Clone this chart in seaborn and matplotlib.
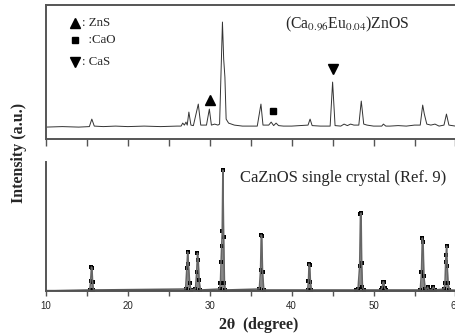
import matplotlib
matplotlib.use("Agg")
import matplotlib.pyplot as plt
import seaborn as sns
import pandas as pd

meas_2theta = [10.0, 12.0, 14.0, 15.3, 15.6, 15.9, 17.0, 18.5, 20.0, 22.0, 24.0, 26.0,
               26.5, 26.7, 26.9, 27.1, 27.25, 27.45, 27.7, 28.0, 28.6, 28.9, 29.3, 29.6,
               29.95, 30.2, 30.6, 31.0, 31.2, 31.55, 31.7, 31.85, 32.0, 32.3, 33.0, 34.0,
               35.0, 35.8, 36.25, 36.5, 37.2, 37.5, 37.8, 38.1, 38.4, 39.0, 40.0, 41.0,
               42.0, 42.25, 42.5, 43.5, 44.7, 45.0, 45.3, 46.0, 46.4, 46.8, 47.2, 47.6,
               48.2, 48.5, 48.8, 49.2, 50.0, 51.0, 51.2, 51.5, 52.0, 53.0, 54.0, 55.0,
               55.7, 56.0, 56.2, 56.5, 57.0, 57.5, 58.0, 58.6, 58.9, 59.2, 60.0, 61.0, 62.0]
meas_int = [12, 12.5, 12, 12.5, 20, 13, 12.5, 13, 12.5, 13, 12.5, 13,
            13, 16, 14, 17, 14, 27, 14, 13.5, 35, 14, 14, 14,
            30, 14, 15, 14, 15, 117, 80, 62, 20, 16, 14, 13,
            13, 13, 35, 14, 14, 17, 13.5, 16, 13.5, 13, 13, 13.5,
            14, 20, 13.5, 13, 13, 57, 13.5, 13, 15, 13.5, 15, 14,
            14, 38, 15, 14, 13, 13, 15, 13, 13, 13.5, 13, 14,
            14, 34, 25, 15, 14, 15, 13, 14, 25, 14, 13, 13, 13]

# reference pattern CaZnOS single crystal (Ref. 9)
ref_2theta = [10.0, 15.35, 15.45, 15.55, 15.62, 15.7, 15.8,
              27.05, 27.2, 27.3, 27.4, 27.55, 27.7,
              28.25, 28.4, 28.5, 28.6, 28.7, 28.85,
              31.2, 31.3, 31.38, 31.45, 31.52, 31.6, 31.7, 31.8, 31.9,
              36.05, 36.2, 36.28, 36.35, 36.45, 36.6,
              41.95, 42.05, 42.12, 42.2, 42.3, 42.4,
              47.9, 48.1, 48.3, 48.4, 48.48, 48.55, 48.65, 48.8,
              50.9, 51.05, 51.15, 51.25, 51.35, 51.5,
              55.7, 55.85, 55.95, 56.05, 56.15, 56.3,
              56.45, 56.6, 56.75, 57.1, 57.3, 57.5,
              58.6, 58.72, 58.8, 58.85, 58.92, 59.0, 59.1, 59.25, 62.0]
ref_int = [0, 1, 10, 24, 23, 9, 1,
           2, 23, 39, 27, 8, 1,
           2, 19, 38, 31, 11, 1,
           2, 8, 29, 45, 60, 121, 54, 8, 1,
           2, 21, 56, 55, 19, 1,
           1, 10, 27, 26, 9, 1,
           1, 2, 25, 77, 78, 28, 4, 1,
           1, 3, 9, 9, 3, 1,
           1, 19, 53, 49, 15, 2,
           1, 4, 1, 1, 4, 1,
           2, 8, 29, 36, 45, 25, 8, 1, 0]

# phase markers
phase_labels = ["ZnS", "CaO", "CaS"]
phase_marks = ["^", "s", "v"]
phase_2theta = [30.0, 37.7, 45.0]
phase_int = [39, 28, 70]

meas = pd.DataFrame({"2theta": meas_2theta, "I": meas_int})
ref = pd.DataFrame({"2theta": ref_2theta, "I": ref_int})

sns.set_style("ticks")
plt.rcParams["font.family"] = ["Liberation Serif", "DejaVu Serif"]
plt.rcParams["mathtext.fontset"] = "stix"

fig = plt.figure(figsize=(4.55, 3.36), dpi=100)
ax1 = fig.add_axes([0.101, 0.586, 0.936, 0.399])
ax2 = fig.add_axes([0.101, 0.134, 0.936, 0.384])

spine_col = "#555555"

# top panel
sns.lineplot(data=meas, x="2theta", y="I", ax=ax1, color="#333333", lw=0.7)
for m, x, y in zip(phase_marks, phase_2theta, phase_int):
    ax1.plot(x, y, marker=m, color="black", ms=6.5 if m != "s" else 4.5, ls="none")
ax1.set_xlim(10, 62)
ax1.set_ylim(0, 134)
ax1.set_xticks(range(10, 61, 5))
ax1.set_xticklabels([])
ax1.set_yticks([])
ax1.set_xlabel("")
ax1.set_ylabel("")
ax1.spines["right"].set_visible(False)
for s in ["top", "left", "bottom"]:
    ax1.spines[s].set_color(spine_col)
    ax1.spines[s].set_linewidth(1.4)
ax1.tick_params(axis="x", direction="out", length=5, width=1.0, color=spine_col)

ax1.text(10 + (348 - 46) / 8.2, 115, r"(Ca$_{0.96}$Eu$_{0.04}$)ZnOS", ha="center",
         va="center", fontsize=11.3)
leg_y = [116, 99, 77]
for m, lab, y in zip(phase_marks, phase_labels, leg_y):
    ax1.plot(13.6, y, marker=m, color="black", ms=6.5 if m != "s" else 4.5, ls="none")
    gap = ": " if m != "s" else "  :"
    ax1.text(14.4, y, gap + lab, ha="left", va="center", fontsize=9.3)

# bottom panel
ax2.fill_between(ref["2theta"], 0, ref["I"], color="#888888", lw=0)
sns.lineplot(data=ref, x="2theta", y="I", ax=ax2, color="#666666", lw=1.1)
sns.scatterplot(data=ref[ref["I"] > 0], x="2theta", y="I", ax=ax2, color="black",
                marker="s", s=9, linewidth=0)
ax2.axhline(0, color="black", lw=1.6)
ax2.set_xlim(10, 62)
ax2.set_ylim(0, 129)
ax2.set_xticks(range(10, 61, 10))
ax2.set_xticks(range(15, 61, 10), minor=True)
ax2.set_yticks([])
ax2.set_xlabel("")
ax2.set_ylabel("")
ax2.spines["right"].set_visible(False)
ax2.spines["top"].set_visible(False)
for s in ["left", "bottom"]:
    ax2.spines[s].set_color(spine_col)
    ax2.spines[s].set_linewidth(1.4)
ax2.tick_params(axis="x", which="both", direction="out", length=3.5, width=1.0,
                color=spine_col, labelsize=7, pad=4)
for t in ax2.get_xticklabels():
    t.set_family("Liberation Sans")
ax2.text(10 + (344 - 46) / 8.2, 113, "CaZnOS single crystal (Ref. 9)", ha="center",
         va="center", fontsize=12)

fig.text(259 / 455, 1 - 325 / 336, r"2$\mathbf{\theta}$  (degree)", ha="center",
         va="center", fontsize=11.5, fontweight="bold")
fig.text(19 / 455, 1 - 153 / 336, "Intensity (a.u.)", ha="center", va="center",
         rotation=90, fontsize=11.4, fontweight="bold")

fig.savefig("out.png", dpi=100)
